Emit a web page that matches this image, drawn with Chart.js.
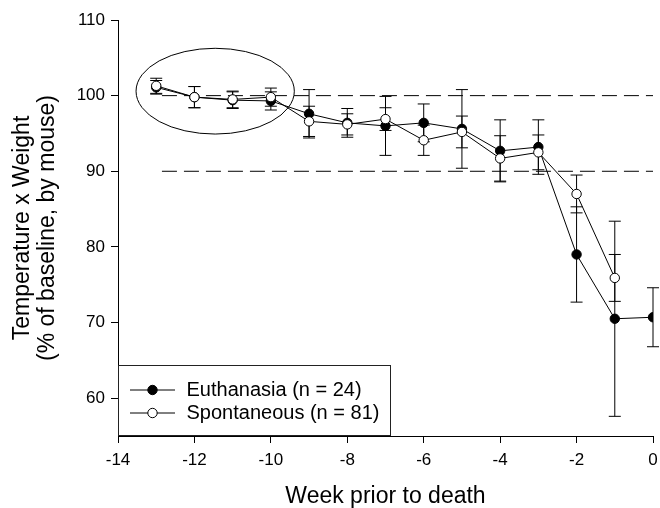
<!DOCTYPE html>
<html><head><meta charset="utf-8">
<script src="https://cdn.jsdelivr.net/npm/chart.js@4.4.1/dist/chart.umd.min.js"></script>
<style>html,body{margin:0;padding:0;background:#fff}canvas{display:block}</style>
</head><body>
<canvas id="c" width="660" height="508"></canvas>
<script>
// ---- data ----
const euthWeeks = [-13, -12, -11, -10, -9, -8, -7, -6, -5, -4, -3, -2, -1, 0];
const euthMean  = [101.1, 99.8, 99.4, 99.3, 97.6, 96.4, 96.0, 96.4, 95.6, 92.7, 93.2, 79.0, 70.5, 70.7];
const euthErr   = [0.9, 1.4, 1.1, 1.2, 3.2, 1.9, 3.9, 2.5, 5.2, 4.1, 3.6, 6.3, 12.9, 3.9];
const spontWeeks = [-13, -12, -11, -10, -9, -8, -7, -6, -5, -4, -3, -2, -1];
const spontMean  = [101.3, 99.8, 99.5, 99.8, 96.6, 96.2, 96.9, 94.1, 95.2, 91.7, 92.5, 87.0, 75.9];
const spontErr   = [1.0, 1.4, 1.1, 1.2, 2.0, 1.4, 1.5, 2.0, 2.1, 3.0, 2.3, 2.5, 3.1];
const refLevels = [100, 90];
const refStart = -12.85;
const refEnd = 0;
const yTickValues = [60, 70, 80, 90, 100, 110];
const seriesLabels = ['Euthanasia (n = 24)', 'Spontaneous (n = 81)'];
const xTitle = 'Week prior to death';
const yTitle = ['Temperature x Weight', '(% of baseline, by mouse)'];
// highlighted region (ellipse) in data units
const ellipseCenter = {x: -11.457, y: 100.59};
const ellipseRadius = {x: 2.071, y: 5.67};

const FONT = "'Liberation Sans', Arial, sans-serif";
const toPts = (xs, ys) => xs.map((x, i) => ({x: x, y: ys[i]}));

const errorBarPlugin = {
  id: 'errorBars',
  beforeDatasetsDraw(chart) {
    const ctx = chart.ctx, xs = chart.scales.x, ys = chart.scales.y;
    const draw = (wk, mean, err) => {
      ctx.save();
      ctx.strokeStyle = '#000';
      ctx.lineWidth = 1;
      wk.forEach((w, i) => {
        const px = xs.getPixelForValue(w);
        const top = ys.getPixelForValue(mean[i] + err[i]);
        const bot = ys.getPixelForValue(mean[i] - err[i]);
        ctx.beginPath();
        ctx.moveTo(px, top); ctx.lineTo(px, bot);
        ctx.moveTo(px - 6, top); ctx.lineTo(px + 6, top);
        ctx.moveTo(px - 6, bot); ctx.lineTo(px + 6, bot);
        ctx.stroke();
      });
      ctx.restore();
    };
    draw(euthWeeks, euthMean, euthErr);
    draw(spontWeeks, spontMean, spontErr);
  },
  afterDatasetsDraw(chart) {
    const ctx = chart.ctx, xs = chart.scales.x, ys = chart.scales.y;
    // ellipse
    const cx = xs.getPixelForValue(ellipseCenter.x);
    const cy = ys.getPixelForValue(ellipseCenter.y);
    const rx = Math.abs(xs.getPixelForValue(ellipseCenter.x + ellipseRadius.x) - cx);
    const ry = Math.abs(ys.getPixelForValue(ellipseCenter.y + ellipseRadius.y) - cy);
    ctx.save();
    ctx.strokeStyle = '#000';
    ctx.lineWidth = 1;
    ctx.beginPath();
    ctx.ellipse(cx, cy, rx, ry, 0, 0, Math.PI * 2);
    ctx.stroke();
    ctx.restore();

    // legend box
    const a = chart.chartArea;
    const bx = a.left, bw = 273, bh = 71, by = a.bottom - bh;
    ctx.save();
    ctx.fillStyle = '#fff';
    ctx.fillRect(bx, by, bw, bh);
    ctx.strokeStyle = '#222';
    ctx.lineWidth = 1;
    ctx.strokeRect(bx + 0.5, by + 0.5, bw - 1, bh - 1);
    const rows = [by + 25, by + 48];
    const fills = ['#000', '#fff'];
    ctx.font = '20px ' + FONT;
    ctx.textBaseline = 'middle';
    ctx.fillStyle = '#000';
    rows.forEach((ry2, i) => {
      ctx.beginPath();
      ctx.moveTo(bx + 12, ry2); ctx.lineTo(bx + 57, ry2);
      ctx.strokeStyle = '#000';
      ctx.stroke();
      ctx.beginPath();
      ctx.arc(bx + 34.5, ry2, 4.7, 0, Math.PI * 2);
      ctx.fillStyle = fills[i];
      ctx.fill();
      ctx.stroke();
      ctx.fillStyle = '#000';
      ctx.fillText(seriesLabels[i], bx + 68.5, ry2);
    });
    ctx.restore();
  }
};

const refDatasets = refLevels.map(v => ({
  type: 'line',
  data: [{x: refStart, y: v}, {x: refEnd, y: v}],
  borderColor: '#000',
  borderWidth: 1,
  borderDash: [15, 7],
  pointRadius: 0,
  order: 10
}));

new Chart(document.getElementById('c'), {
  type: 'line',
  data: {
    datasets: [
      ...refDatasets,
      {
        label: seriesLabels[0],
        data: toPts(euthWeeks, euthMean),
        borderColor: '#000', borderWidth: 1,
        pointBackgroundColor: '#000', pointBorderColor: '#000',
        pointRadius: 4.7, pointBorderWidth: 1,
        tension: 0, order: 2
      },
      {
        label: seriesLabels[1],
        data: toPts(spontWeeks, spontMean),
        borderColor: '#000', borderWidth: 1,
        pointBackgroundColor: '#fff', pointBorderColor: '#000',
        pointRadius: 4.7, pointBorderWidth: 1,
        tension: 0, order: 1
      }
    ]
  },
  options: {
    responsive: false,
    animation: false,
    devicePixelRatio: 1,
    layout: {padding: {left: 0, right: 7, top: 20, bottom: 0}},
    plugins: {legend: {display: false}, tooltip: {enabled: false}},
    scales: {
      x: {
        type: 'linear', position: 'bottom', min: -14, max: 0,
        ticks: {stepSize: 2, color: '#000', font: {family: FONT, size: 17}, padding: 7, maxRotation: 0},
        grid: {drawOnChartArea: false, drawTicks: true, tickLength: 7, color: '#000'},
        border: {display: true, color: '#000', width: 1},
        title: {display: true, text: xTitle, color: '#000', font: {family: FONT, size: 23, lineHeight: 1}, padding: {top: 0, bottom: 0}},
        afterFit(scale) { scale.height = 72; scale.paddingRight = 0; scale.paddingLeft = 0; }
      },
      y: {
        type: 'linear', position: 'left', min: 55, max: 110,
        afterBuildTicks(scale) { scale.ticks = yTickValues.map(v => ({value: v})); },
        ticks: {color: '#000', font: {family: FONT, size: 17}, padding: 6},
        grid: {drawOnChartArea: false, drawTicks: true, tickLength: 7, color: '#000'},
        border: {display: true, color: '#000', width: 1},
        title: {display: true, text: yTitle, color: '#000', font: {family: FONT, size: 23, lineHeight: 25 / 23}, padding: {top: 10, bottom: 0}},
        afterFit(scale) { scale.width = 118; }
      }
    }
  },
  plugins: [errorBarPlugin]
});
</script></body></html>
